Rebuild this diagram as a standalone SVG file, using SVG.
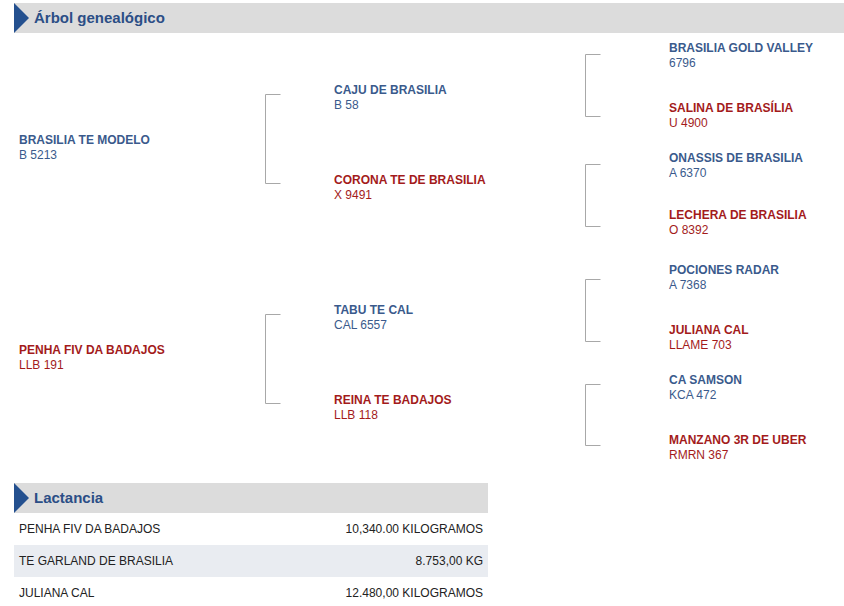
<svg xmlns="http://www.w3.org/2000/svg" width="844" height="606" viewBox="0 0 844 606">
<style>
.bar{fill:#dcdcdc}
.tri{fill:#24508f}
.ht{font-family:"Liberation Sans",Arial,sans-serif;font-size:15px;font-weight:bold;fill:#2b4e86}
.n{font-family:"Liberation Sans",Arial,sans-serif;font-size:12px;font-weight:bold}
.r{font-family:"Liberation Sans",Arial,sans-serif;font-size:12px}
.m{fill:#3a5a8c}
.f{fill:#a31b1b}
.br{fill:none;stroke:#a8a8a8;stroke-width:1}
.t{font-family:"Liberation Sans",Arial,sans-serif;font-size:12px;fill:#222}
</style>
<rect width="844" height="606" fill="#fff"/>
<g id="header-arbol">
<rect class="bar" x="14" y="3" width="830" height="30"/>
<polygon class="tri" points="14,3 29,18 14,33"/>
<text class="ht" x="34" y="23">Árbol genealógico</text>
</g>
<g id="connectors">
<path class="br" d="M280.5,94.5H265.5V183.5H280.5"/>
<path class="br" d="M280.5,314.5H265.5V403.5H280.5"/>
<path class="br" d="M600.5,54.5H585.5V116.5H600.5"/>
<path class="br" d="M600.5,164.5H585.5V226.5H600.5"/>
<path class="br" d="M600.5,279.5H585.5V341.5H600.5"/>
<path class="br" d="M600.5,384.5H585.5V445.5H600.5"/>
</g>
<g id="n-brasilia-te-modelo" class="m"><text class="n" x="19" y="144">BRASILIA TE MODELO</text><text class="r" x="19" y="159">B 5213</text></g>
<g id="n-penha" class="f"><text class="n" x="19" y="354">PENHA FIV DA BADAJOS</text><text class="r" x="19" y="369">LLB 191</text></g>
<g id="n-caju" class="m"><text class="n" x="334" y="94">CAJU DE BRASILIA</text><text class="r" x="334" y="109">B 58</text></g>
<g id="n-corona" class="f"><text class="n" x="334" y="184">CORONA TE DE BRASILIA</text><text class="r" x="334" y="199">X 9491</text></g>
<g id="n-tabu" class="m"><text class="n" x="334" y="314">TABU TE CAL</text><text class="r" x="334" y="329">CAL 6557</text></g>
<g id="n-reina" class="f"><text class="n" x="334" y="404">REINA TE BADAJOS</text><text class="r" x="334" y="419">LLB 118</text></g>
<g id="n-gold-valley" class="m"><text class="n" x="669" y="52">BRASILIA GOLD VALLEY</text><text class="r" x="669" y="67">6796</text></g>
<g id="n-salina" class="f"><text class="n" x="669" y="112">SALINA DE BRASÍLIA</text><text class="r" x="669" y="127">U 4900</text></g>
<g id="n-onassis" class="m"><text class="n" x="669" y="162">ONASSIS DE BRASILIA</text><text class="r" x="669" y="177">A 6370</text></g>
<g id="n-lechera" class="f"><text class="n" x="669" y="219">LECHERA DE BRASILIA</text><text class="r" x="669" y="234">O 8392</text></g>
<g id="n-pociones" class="m"><text class="n" x="669" y="274">POCIONES RADAR</text><text class="r" x="669" y="289">A 7368</text></g>
<g id="n-juliana" class="f"><text class="n" x="669" y="334">JULIANA CAL</text><text class="r" x="669" y="349">LLAME 703</text></g>
<g id="n-samson" class="m"><text class="n" x="669" y="384">CA SAMSON</text><text class="r" x="669" y="399">KCA 472</text></g>
<g id="n-manzano" class="f"><text class="n" x="669" y="444">MANZANO 3R DE UBER</text><text class="r" x="669" y="459">RMRN 367</text></g>
<g id="header-lactancia">
<rect class="bar" x="14" y="483" width="474" height="30"/>
<polygon class="tri" points="14,483 29,498 14,513"/>
<text class="ht" x="34" y="503">Lactancia</text>
</g>
<g id="table-lactancia">
<rect x="14" y="545" width="474" height="32" fill="#e9ecf1"/>
<text class="t" x="19" y="533">PENHA FIV DA BADAJOS</text>
<text class="t" x="483" y="533" text-anchor="end">10,340.00 KILOGRAMOS</text>
<text class="t" x="19" y="565">TE GARLAND DE BRASILIA</text>
<text class="t" x="483" y="565" text-anchor="end">8.753,00 KG</text>
<text class="t" x="19" y="597">JULIANA CAL</text>
<text class="t" x="483" y="597" text-anchor="end">12.480,00 KILOGRAMOS</text>
</g>
</svg>
